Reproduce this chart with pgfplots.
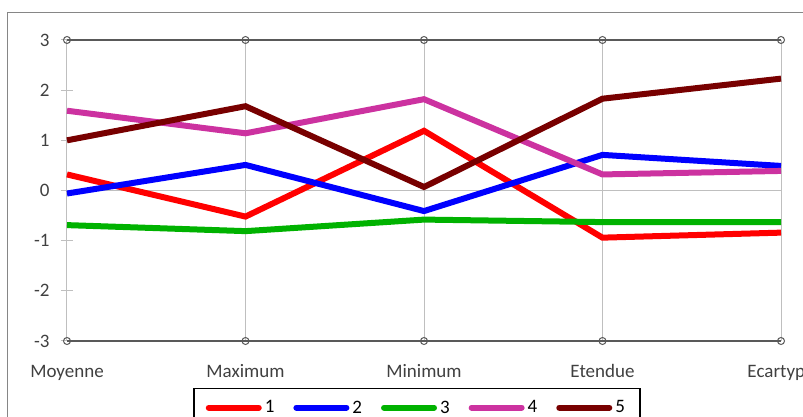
\documentclass[border=0pt]{standalone}
\usepackage{fontspec}
\setmainfont{Carlito}
\usepackage{pgfplots}
\pgfplotsset{compat=1.18}

\definecolor{s1}{RGB}{255,0,0}
\definecolor{s2}{RGB}{0,0,255}
\definecolor{s3}{RGB}{0,178,0}
\definecolor{s4}{RGB}{204,50,160}
\definecolor{s5}{RGB}{120,0,0}
\definecolor{gridc}{RGB}{191,191,191}
\definecolor{axc}{RGB}{89,89,89}
\definecolor{txt}{RGB}{64,64,64}
\definecolor{frame}{RGB}{134,134,134}

\begin{document}
\begin{tikzpicture}
\path[use as bounding box, clip] (-67pt,-76pt) rectangle (736pt,341pt);
\draw[frame, line width=1pt] (-59pt,328pt) rectangle (760pt,-100pt);
\begin{axis}[
    scale only axis,
    width=714pt, height=301pt,
    xmin=0, xmax=4, ymin=-3, ymax=3,
    clip=false,
    axis line style={draw=none},
    xtick={0,1,2,3,4},
    xticklabels={Moyenne,Maximum,Minimum,Etendue,Ecartype},
    xmajorgrids, major x grid style={gridc, line width=1pt},
    x tick style={draw=none},
    ytick={-3,-2,-1,0,1,2,3},
    yticklabels={-3,-2,-1,0,1,2,3},
    ytick pos=left, xtick pos=bottom,
    tick align=center, major tick length=12pt,
    y tick style={gridc, line width=1pt},
    extra y ticks={0}, extra y tick labels={},
    extra y tick style={grid=major, major grid style={gridc, line width=1pt}},
    ticklabel style={font=\fontsize{19}{22}\selectfont, text=txt},
    yticklabel style={anchor=east, xshift=-8pt},
    xticklabel style={anchor=north, yshift=-14pt, text height=13pt, text depth=4pt},
    legend style={at={(axis description cs:0.1765,-0.156)}, anchor=north west,
        draw=black, line width=1.5pt, legend columns=5,
        inner xsep=12pt, inner ysep=10pt,
        font=\fontsize{19}{22}\selectfont,
        nodes={inner xsep=3pt},
        /tikz/every even column/.append style={column sep=16pt}},
    legend image code/.code={\draw[#1, line cap=round] (0pt,0pt) -- (50pt,0pt);},
    every axis plot/.append style={line width=6pt},
]
\addplot[axc, line width=2pt, mark=o, mark size=3.5pt, mark options={line width=1pt, fill=white}, forget plot]
    coordinates {(0,3) (1,3) (2,3) (3,3) (4,3)};
\addplot[axc, line width=2pt, mark=o, mark size=3.5pt, mark options={line width=1pt, fill=white}, forget plot]
    coordinates {(0,-3) (1,-3) (2,-3) (3,-3) (4,-3)};
\addplot[s1] coordinates {(0,0.32) (1,-0.52) (2,1.19) (3,-0.94) (4,-0.84)};
\addplot[s2] coordinates {(0,-0.06) (1,0.51) (2,-0.41) (3,0.71) (4,0.49)};
\addplot[s3] coordinates {(0,-0.69) (1,-0.81) (2,-0.58) (3,-0.63) (4,-0.63)};
\addplot[s4] coordinates {(0,1.59) (1,1.14) (2,1.82) (3,0.32) (4,0.39)};
\addplot[s5] coordinates {(0,1.0) (1,1.68) (2,0.07) (3,1.83) (4,2.23)};
\legend{1,2,3,4,5}
\end{axis}
\end{tikzpicture}
\end{document}
